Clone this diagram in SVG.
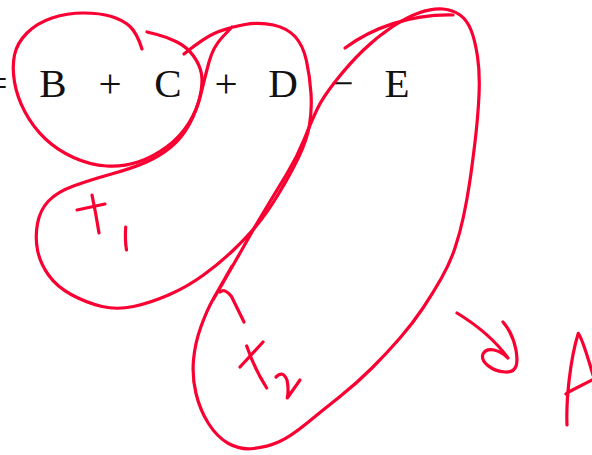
<svg xmlns="http://www.w3.org/2000/svg" width="592" height="455" viewBox="0 0 592 455">
<style>
.ink{fill:none;stroke:#fa0032;stroke-width:3.2;stroke-linecap:round;stroke-linejoin:round}
.eq{font-family:"Liberation Serif","Times New Roman",serif;font-size:41px;fill:#111;text-anchor:middle}
</style>
<rect width="592" height="455" fill="#fff"/>
<g id="equation">
<text class="eq" x="-4" y="97">=</text>
<text class="eq" x="53" y="97">B</text>
<text class="eq" x="110" y="97">+</text>
<text class="eq" x="168" y="97">C</text>
<text class="eq" x="226" y="97">+</text>
<text class="eq" x="283" y="97">D</text>
<text class="eq" x="342" y="97">−</text>
<text class="eq" x="397" y="97">E</text>
</g>
<g id="loops">
<path id="loop-bc" class="ink" d="M142,49 Q137,33 130,26.5 Q123,20 111.5,16.5 Q100,13 83.5,13 Q67,13 52,18 Q37,23 27,33 Q17,43 14.5,55 Q12,67 14.5,82 Q17,97 25,112 Q33,127 45,138.5 Q57,150 73.5,157.5 Q90,165 106.5,166 Q123,167 138,162 Q153,157 166.5,147 Q180,137 188.5,123.5 Q197,110 200,96.5 Q203,83 201.5,74 Q200,65 193.5,56 Q187,47 177,42 Q167,37 157,34.5 L147,32"/>
<path id="loop-t1" class="ink" d="M184,54 Q205,37 217.5,32 Q230,27 245,24.5 Q260,22 273.5,25 Q287,28 295,36.5 Q303,45 306.5,61 Q310,77 311,93.5 Q312,110 309.5,125 Q307,140 298.5,157.5 Q290,175 278.5,194 Q267,213 257,225 Q247,237 233.5,250 Q220,263 203.5,275 Q187,287 168.5,295 Q150,303 133.5,306.5 Q117,310 102,306.5 Q87,303 72,295 Q57,287 48.5,275 Q40,263 37.5,250 Q35,237 37.5,223.5 Q40,210 48.5,201 Q57,192 73.5,186 Q90,180 111.5,174 Q133,168 146.5,162 Q160,156 171,147 Q182,138 189.5,124 Q197,110 201,93.5 Q205,77 209,62 Q213,47 222.5,37 L232,27"/>
<path id="loop-t2" class="ink" d="M213,300 Q235,262 246,242.5 Q257,223 267,206.5 Q277,190 287,173.5 Q297,157 304.5,138.5 Q312,120 317.5,108.5 Q323,97 336.5,80 Q350,63 363.5,50 Q377,37 392,27 Q407,17 420,12.5 Q433,8 443,9 Q453,10 460,15 Q467,20 471,30 Q475,40 477.5,56.5 Q480,73 479,95 Q478,117 475,142 Q472,167 469.5,183.5 Q467,200 463.5,216.5 Q460,233 455,248 Q450,263 441.5,278 Q433,293 423,308 Q413,323 400,338 Q387,353 372,368 Q357,383 340,396.5 Q323,410 306.5,423.5 Q290,437 278.5,442 Q267,447 253.5,448.5 Q240,450 228.5,443.5 Q217,437 208.5,423.5 Q200,410 196,393.5 Q192,377 193.5,360 Q195,343 201,326.5 Q207,310 213.5,298.5 Q220,287 232,266"/>
<path id="loop-t2-top" class="ink" d="M345,48 C372,28 410,14 453,15"/>
</g>
<g id="label-t1">
<path class="ink" d="M77,210 L105,204"/>
<path class="ink" d="M92,195 Q96,214 99,233"/>
<path class="ink" d="M125.7,227 Q124.8,240 126.5,250"/>
</g>
<g id="label-t2">
<path class="ink" d="M220,292 Q225,288 231.5,296.5 L244,322"/>
<path class="ink" d="M240,367 L263,342"/>
<path class="ink" d="M246.7,346 Q255,370 266.7,388"/>
<path class="ink" d="M276,377 Q283,370 287,380 Q289,390 287.3,398 L300,380"/>
</g>
<g id="arrow">
<path class="ink" d="M457,313 C475,324 495,340 508,358 C500,350 487,346 483,354 C480,362 492,371 505,372 C518,373 518,362 516,350 C514,340 510,330 503,322"/>
</g>
<g id="label-A">
<path class="ink" d="M567,425 C566,400 570,360 578.3,333.3 C583,340 588,358 593,375"/>
<path class="ink" d="M566,394 L568.5,392 L594,379"/>
</g>
</svg>
